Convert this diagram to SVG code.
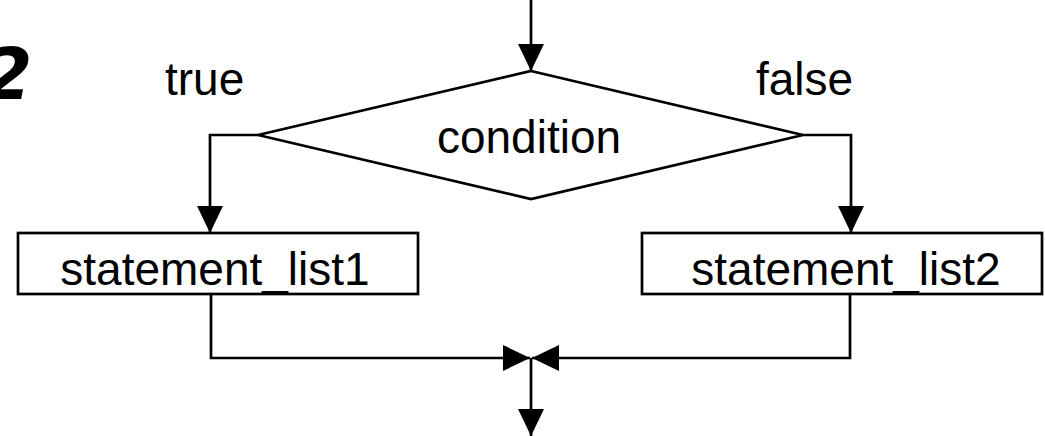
<svg xmlns="http://www.w3.org/2000/svg" width="1045" height="436" viewBox="0 0 1045 436">
<style>
.ln{fill:none;stroke:#000;stroke-width:2.7}
.sh{fill:#fff;stroke:#000;stroke-width:2.7}
.t{font-family:"Liberation Sans",Arial,sans-serif;font-size:46px;fill:#000}
</style>
<defs>
<marker id="ah" markerUnits="userSpaceOnUse" markerWidth="28" markerHeight="28" viewBox="0 0 28 28" refX="27" refY="14" orient="auto">
<path d="M0,1 L27,14 L0,27 Z" fill="#000"/>
</marker>
</defs>
<rect width="1045" height="436" fill="#fff"/>
<text x="-17" y="99" style="font-family:'DejaVu Sans',sans-serif;font-weight:bold;font-style:italic;font-size:71px">2</text>
<g id="connectors">
<line class="ln" x1="531" y1="0" x2="531" y2="71" marker-end="url(#ah)"/>
<polyline class="ln" points="258,135 210,135 210,233" marker-end="url(#ah)"/>
<polyline class="ln" points="803,135 851,135 851,233" marker-end="url(#ah)"/>
<polyline class="ln" points="211,294 211,358 530,358" marker-end="url(#ah)"/>
<polyline class="ln" points="850,294 850,358 532,358" marker-end="url(#ah)"/>
<line class="ln" x1="531" y1="358" x2="531" y2="436" marker-end="url(#ah)"/>
</g>
<g id="label-true"><text class="t" x="165" y="95">true</text></g>
<g id="label-false"><text class="t" x="756" y="95">false</text></g>
<g id="condition">
<polygon class="sh" points="531,71 803,135 531,199 258,135"/>
<text class="t" x="529" y="153" text-anchor="middle">condition</text>
</g>
<g id="statement_list1">
<rect class="sh" x="18" y="233" width="400" height="61"/>
<text class="t" x="215" y="285" text-anchor="middle">statement_list1</text>
</g>
<g id="statement_list2">
<rect class="sh" x="642" y="233" width="400" height="61"/>
<text class="t" x="846" y="285" text-anchor="middle">statement_list2</text>
</g>
</svg>
